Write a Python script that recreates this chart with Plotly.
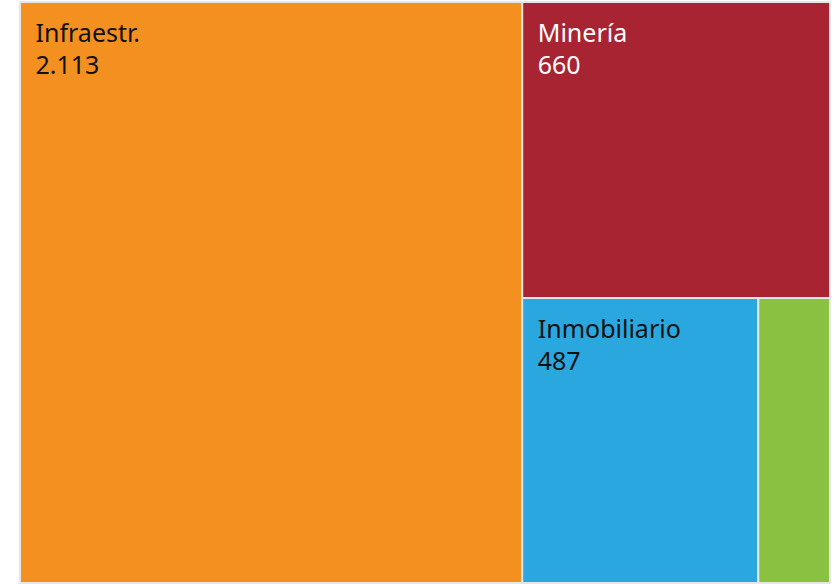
import plotly.graph_objects as go

labels = ["Infraestr.", "Minería", "Inmobiliario", "Otros"]
values = [2113, 660, 487, 148]
colors = ["#F39020", "#A82432", "#2AA7DF", "#8BC140"]
text_colors = ["#111111", "#FFFFFF", "#111111", "#111111"]
show_text = [True, True, True, False]

SP = "\u2002"
big = "<span style='font-size:25px'>{}</span>"
top_gap = "<span style='font-size:20px'>\u00a0</span>"
tmpl = top_gap + "<br>" + big.format(SP + "%{label}") + "<br>\u00a0<br>" + big.format(SP + "%{value:,.0f}")
templates = [tmpl if s else "" for s in show_text]

fig = go.Figure(go.Treemap(
    labels=labels,
    parents=[""] * len(labels),
    values=values,
    marker=dict(colors=colors, line=dict(color="#E6E6E6", width=2),
                pad=dict(t=0, l=0, r=0, b=0)),
    texttemplate=templates,
    textposition="top left",
    textfont=dict(family="Noto Sans", size=12.3, color=text_colors),
    hoverinfo="label+value",
    pathbar=dict(visible=False),
    tiling=dict(packing="squarify", pad=0),
    sort=True,
))
fig.update_layout(
    width=836, height=584,
    margin=dict(l=20, r=6, t=2, b=1),
    paper_bgcolor="white",
    separators=",.",
    uniformtext=dict(minsize=12, mode="show"),
)
fig.write_html("out.html", config={"displayModeBar": False},
               post_script="document.body.style.margin='0';document.body.style.overflow='hidden';")
